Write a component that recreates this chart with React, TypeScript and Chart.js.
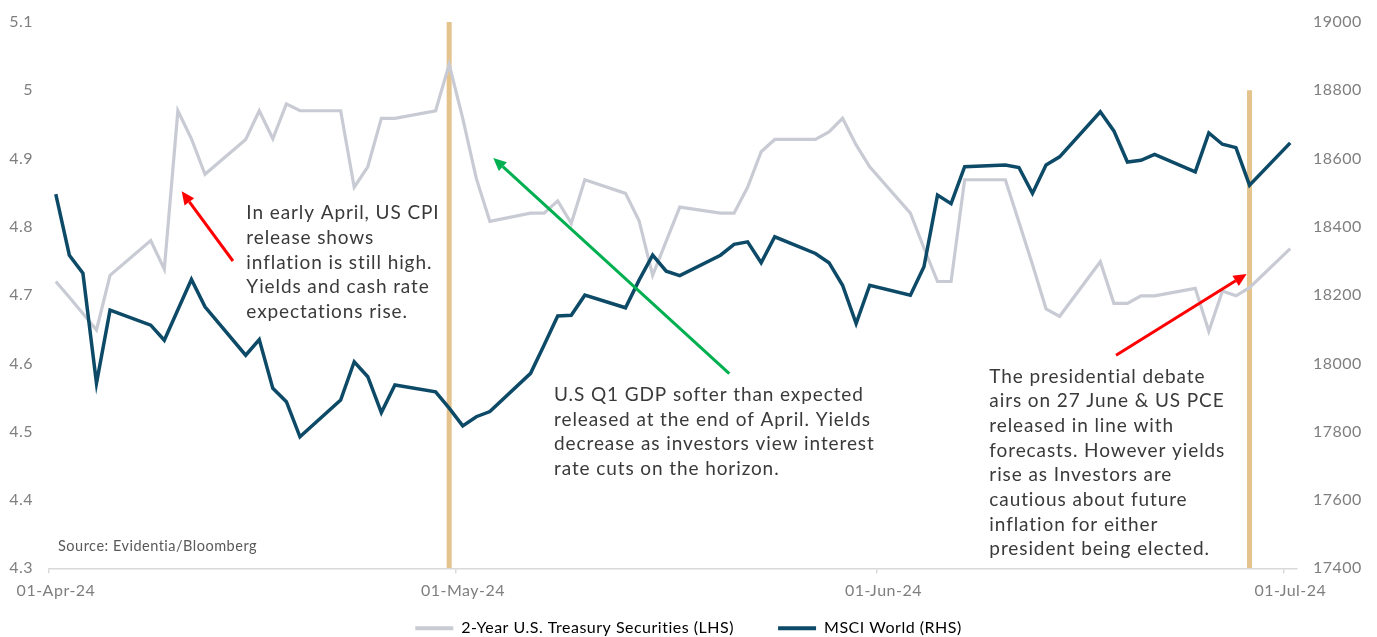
import React, { useEffect, useRef } from 'react';
import { Chart, registerables } from 'chart.js';

Chart.register(...registerables);

const FONT = 'Lato, "Open Sans", sans-serif';

// ---------- data ----------
const tradingDates: string[] = [
  '2024-04-01', '2024-04-02', '2024-04-03', '2024-04-04', '2024-04-05',
  '2024-04-08', '2024-04-09', '2024-04-10', '2024-04-11', '2024-04-12',
  '2024-04-15', '2024-04-16', '2024-04-17', '2024-04-18', '2024-04-19',
  '2024-04-22', '2024-04-23', '2024-04-24', '2024-04-25', '2024-04-26',
  '2024-04-29', '2024-04-30',
  '2024-05-01', '2024-05-02', '2024-05-03',
  '2024-05-06', '2024-05-07', '2024-05-08', '2024-05-09', '2024-05-10',
  '2024-05-13', '2024-05-14', '2024-05-15', '2024-05-16', '2024-05-17',
  '2024-05-20', '2024-05-21', '2024-05-22', '2024-05-23', '2024-05-24',
  '2024-05-27', '2024-05-28', '2024-05-29', '2024-05-30', '2024-05-31',
  '2024-06-03', '2024-06-04', '2024-06-05', '2024-06-06', '2024-06-07',
  '2024-06-10', '2024-06-11', '2024-06-12', '2024-06-13', '2024-06-14',
  '2024-06-17', '2024-06-18', '2024-06-19', '2024-06-20', '2024-06-21',
  '2024-06-24', '2024-06-25', '2024-06-26', '2024-06-27', '2024-06-28',
  '2024-07-01',
];

const treasury2Y: number[] = [
  4.72, 4.697, 4.673, 4.649, 4.729,
  4.78, 4.738, 4.97, 4.929, 4.877,
  4.928, 4.97, 4.929, 4.98, 4.97,
  4.97, 4.858, 4.888, 4.959, 4.959,
  4.97, 5.038,
  4.959, 4.871, 4.808,
  4.82, 4.82, 4.838, 4.805, 4.869,
  4.849, 4.809, 4.729, 4.779, 4.829,
  4.82, 4.82, 4.858, 4.91, 4.928,
  4.928, 4.939, 4.959, 4.92, 4.888,
  4.82, 4.769, 4.72, 4.72, 4.869,
  4.869, 4.807, 4.745, 4.68, 4.669,
  4.749, 4.688, 4.688, 4.699, 4.699,
  4.71, 4.647, 4.706, 4.699, 4.711,
  4.768,
];

const msciWorld: number[] = [
  18496, 18317, 18264, 17942, 18156,
  18112, 18068, 18157, 18246, 18166,
  18024, 18070, 17927, 17888, 17785,
  17893, 18005, 17961, 17856, 17937,
  17917, 17869,
  17817, 17844, 17859,
  17971, 18054, 18139, 18141, 18200,
  18163, 18244, 18317, 18270, 18257,
  18317, 18349, 18356, 18295, 18371,
  18322, 18295, 18229, 18117, 18229,
  18200, 18283, 18493, 18468, 18576,
  18581, 18574, 18498, 18581, 18605,
  18737, 18681, 18590, 18595, 18612,
  18561, 18675, 18642, 18632, 18522,
  18646,
];

const seriesNames = ['2-Year U.S. Treasury Securities (LHS)', 'MSCI World (RHS)'];

const axisStartDate = '2024-04-01';
const axisEndDate = '2024-07-02';
const xTickDates = ['2024-04-01', '2024-05-01', '2024-06-01', '2024-07-01'];
const xTickLabels = ['01-Apr-24', '01-May-24', '01-Jun-24', '01-Jul-24'];

const leftMin = 4.3;
const leftMax = 5.1;
const leftStep = 0.1;
const rightMin = 17400;
const rightMax = 19000;
const rightStep = 200;

const eventDates = ['2024-04-30', '2024-06-28'];
const eventTopYields = [5.1, 5.0];

const noteLines: string[][] = [
  ['In early April, US CPI', 'release shows', 'inflation is still high.', 'Yields and cash rate', 'expectations rise.'],
  ['U.S Q1 GDP softer than expected', 'released at the end of April. Yields', 'decrease as investors view interest', 'rate cuts on the horizon.'],
  ['The presidential debate', 'airs on 27 June & US PCE', 'released in line with', 'forecasts. However yields', 'rise as Investors are', 'cautious about future', 'inflation for either', 'president being elected.'],
];
// anchor of first text line (x in days since 1 Apr, y on LHS yield scale)
const noteDays = [14.55, 37.23, 69.32];
const noteYields = [4.82, 4.554, 4.581];

const arrowTailDays = [13.56, 50.15, 78.66];
const arrowTailYields = [4.75, 4.585, 4.612];
const arrowTipDays = [9.78, 32.75, 88.29];
const arrowTipYields = [4.852, 4.901, 4.731];
const arrowColors = ['#ff0000', '#00b050', '#ff0000'];

const sourceText = 'Source: Evidentia/Bloomberg';

// ---------- helpers ----------
const dayOf = (d: string) => (Date.parse(d) - Date.parse(axisStartDate)) / 86400000;

const GREY = '#c9cbd4';
const NAVY = '#0d4a67';
const TAN = '#e4c38d';
const TICK = '#7f7f7f';

function drawArrow(ctx: CanvasRenderingContext2D, x1: number, y1: number, x2: number, y2: number, color: string) {
  const ang = Math.atan2(y2 - y1, x2 - x1);
  const headLen = 13;
  const headW = 6;
  const bx = x2 - headLen * Math.cos(ang);
  const by = y2 - headLen * Math.sin(ang);
  ctx.save();
  ctx.strokeStyle = color;
  ctx.fillStyle = color;
  ctx.lineWidth = 3;
  ctx.beginPath();
  ctx.moveTo(x1, y1);
  ctx.lineTo(bx, by);
  ctx.stroke();
  ctx.beginPath();
  ctx.moveTo(x2, y2);
  ctx.lineTo(bx + headW * Math.sin(ang), by - headW * Math.cos(ang));
  ctx.lineTo(bx - headW * Math.sin(ang), by + headW * Math.cos(ang));
  ctx.closePath();
  ctx.fill();
  ctx.restore();
}

const spacingPlugin = {
  id: 'letterSpacing',
  beforeLayout(chart: any) {
    (chart.ctx as any).letterSpacing = '0.5px';
  },
  beforeDraw(chart: any) {
    (chart.ctx as any).letterSpacing = '0.5px';
  },
};

const annotationPlugin = {
  id: 'annotations',
  afterDatasetsDraw(chart: any) {
    const { ctx, scales, chartArea } = chart;
    const x = scales.x;
    const y = scales.y;
    ctx.save();
    // arrows
    for (let i = 0; i < arrowColors.length; i++) {
      drawArrow(
        ctx,
        x.getPixelForValue(arrowTailDays[i]), y.getPixelForValue(arrowTailYields[i]),
        x.getPixelForValue(arrowTipDays[i]), y.getPixelForValue(arrowTipYields[i]),
        arrowColors[i],
      );
    }
    // notes
    ctx.fillStyle = '#3a3a3a';
    ctx.font = `19px ${FONT}`;
    (ctx as any).letterSpacing = '0.9px';
    ctx.textBaseline = 'middle';
    ctx.textAlign = 'left';
    const lh = 24.7;
    noteLines.forEach((lines, i) => {
      const px = x.getPixelForValue(noteDays[i]);
      const py = y.getPixelForValue(noteYields[i]);
      lines.forEach((t, j) => ctx.fillText(t, px, py + j * lh));
    });
    // source
    ctx.fillStyle = '#595959';
    ctx.font = `14.5px ${FONT}`;
    (ctx as any).letterSpacing = '0.5px';
    ctx.fillText(sourceText, chartArea.left + 9, chartArea.bottom - 22);
    ctx.restore();
  },
};

const noOverflow = (axis: any, width: number) => {
  axis.width = width;
  axis.paddingTop = 0;
  axis.paddingBottom = 0;
};

export default function App() {
  const canvasRef = useRef<HTMLCanvasElement | null>(null);

  useEffect(() => {
    if (!canvasRef.current) return;
    Chart.defaults.font.family = FONT;

    const treasuryPts = tradingDates.map((d, i) => ({ x: dayOf(d) + 0.5, y: treasury2Y[i] }));
    const msciPts = tradingDates.map((d, i) => ({ x: dayOf(d) + 0.5, y: msciWorld[i] }));
    const eventSets = eventDates.map((d, i) => ({
      label: 'event' + i,
      data: [
        { x: dayOf(d) + 0.5, y: leftMin },
        { x: dayOf(d) + 0.5, y: eventTopYields[i] },
      ],
      borderColor: TAN,
      backgroundColor: TAN,
      borderWidth: 5,
      borderCapStyle: 'butt',
      pointRadius: 0,
      yAxisID: 'y',
      order: 5,
    }));

    const xTickValues = xTickDates.map(dayOf);
    const legendGap = '\u00a0\u00a0\u00a0\u00a0\u00a0\u00a0\u00a0';

    const chart = new Chart(canvasRef.current, {
      type: 'line',
      data: {
        datasets: [
          {
            label: seriesNames[1],
            data: msciPts,
            borderColor: NAVY,
            backgroundColor: NAVY,
            borderWidth: 3.5,
            pointRadius: 0,
            tension: 0,
            yAxisID: 'y1',
            order: 1,
          },
          {
            label: seriesNames[0],
            data: treasuryPts,
            borderColor: GREY,
            backgroundColor: GREY,
            borderWidth: 3.2,
            pointRadius: 0,
            tension: 0,
            yAxisID: 'y',
            order: 2,
          },
          ...eventSets,
        ] as any,
      },
      options: {
        animation: false,
        responsive: true,
        maintainAspectRatio: false,
        layout: { padding: { top: 22, left: 0, right: 0, bottom: -9.3 } },
        plugins: {
          tooltip: { enabled: false },
          legend: {
            position: 'bottom',
            labels: {
              boxWidth: 38,
              boxHeight: 4,
              padding: 12,
              color: TICK,
              font: { size: 16, family: FONT },
              generateLabels: () => [
                { text: seriesNames[0] + legendGap, fillStyle: GREY, strokeStyle: GREY, lineWidth: 0, hidden: false, datasetIndex: 1 },
                { text: seriesNames[1], fillStyle: NAVY, strokeStyle: NAVY, lineWidth: 0, hidden: false, datasetIndex: 0 },
              ] as any,
            },
          },
        },
        scales: {
          x: {
            type: 'linear',
            min: 0,
            max: dayOf(axisEndDate),
            afterBuildTicks: (axis: any) => {
              axis.ticks = xTickValues.map((v) => ({ value: v }));
            },
            afterFit: (axis: any) => {
              axis.height = 40;
              axis.paddingLeft = 0;
              axis.paddingRight = 0;
            },
            grid: { drawOnChartArea: false, drawTicks: true, tickLength: 5, color: '#d9d9d9', lineWidth: 1.5 },
            border: { display: true, color: '#d9d9d9', width: 1.5 },
            ticks: {
              autoSkip: false,
              maxRotation: 0,
              labelOffset: 7,
              padding: 8,
              color: TICK,
              font: { size: 16, family: FONT },
              callback: (v: any) => {
                const k = xTickValues.indexOf(Number(v));
                return k >= 0 ? xTickLabels[k] : '';
              },
            },
          },
          y: {
            type: 'linear',
            position: 'left',
            min: leftMin,
            max: leftMax,
            afterFit: (axis: any) => noOverflow(axis, 49),
            grid: { display: false, drawTicks: false },
            border: { display: false },
            ticks: {
              stepSize: leftStep,
              padding: 16,
              color: TICK,
              font: { size: 16, family: FONT },
              callback: (v: any) => String(Number(Number(v).toFixed(1))),
            },
          },
          y1: {
            type: 'linear',
            position: 'right',
            min: rightMin,
            max: rightMax,
            afterFit: (axis: any) => noOverflow(axis, 80),
            grid: { display: false, drawTicks: false },
            border: { display: false },
            ticks: {
              stepSize: rightStep,
              padding: 16,
              color: TICK,
              font: { size: 16, family: FONT },
              callback: (v: any) => String(v),
            },
          },
        },
      } as any,
      plugins: [spacingPlugin, annotationPlugin],
    });

    return () => chart.destroy();
  }, []);

  return (
    <div style={{ position: 'fixed', left: 0, top: 0, width: 1377, height: 637, background: '#fff' }}>
      <canvas ref={canvasRef} />
    </div>
  );
}
